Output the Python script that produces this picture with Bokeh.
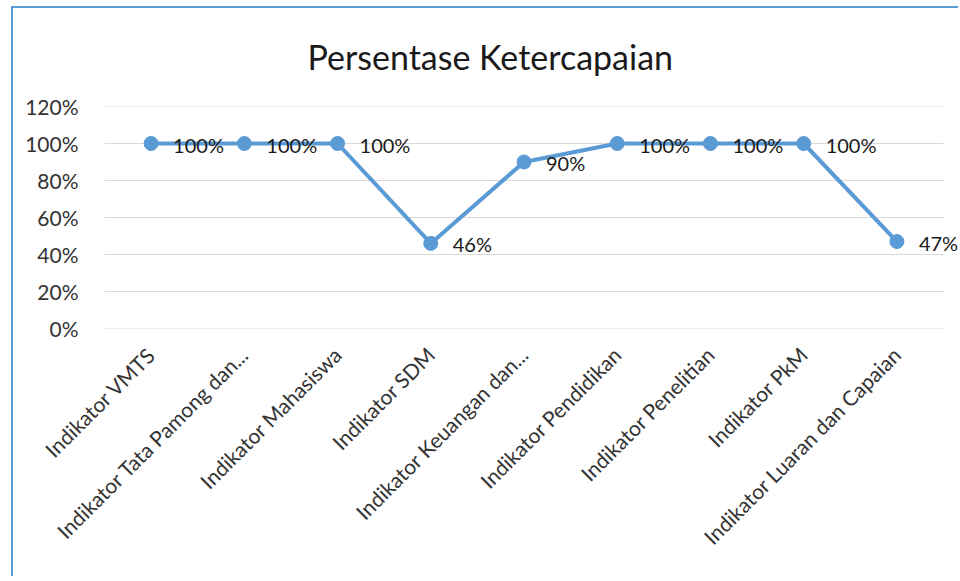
import math
from bokeh.plotting import figure
from bokeh.models import ColumnDataSource, LabelSet, Range1d, NumeralTickFormatter, FixedTicker
from bokeh.core.properties import value
from bokeh.embed import file_html
from bokeh.resources import INLINE

categories = [
    "Indikator VMTS",
    "Indikator Tata Pamong dan...",
    "Indikator Mahasiswa",
    "Indikator SDM",
    "Indikator Keuangan dan...",
    "Indikator Pendidikan",
    "Indikator Penelitian",
    "Indikator PkM",
    "Indikator Luaran dan Capaian",
]
values = [1.00, 1.00, 1.00, 0.46, 0.90, 1.00, 1.00, 1.00, 0.47]
y_ticks = [0, 0.2, 0.4, 0.6, 0.8, 1.0, 1.2]
title_text = "Persentase Ketercapaian"

FONT = "Lato"
BLUE = "#5B9BD5"
GRID = "#D9D9D9"

idx = list(range(len(categories)))
src = ColumnDataSource(dict(
    x=idx,
    val=values,
    lab=[f"{round(v * 100)}%" for v in values],
))

# layout (pixels)
W, H = 947, 570
FL, FT, FH = 91, 98, 222
PLOT_W = 839                      # width of the category area
FW = W - FL                       # frame reaches the right edge so end labels show
n = len(categories)
cat_px = PLOT_W / n
x_start = -0.5
x_end = x_start + FW / cat_px
x_plot_end = n - 0.5

p = figure(
    x_range=Range1d(x_start, x_end),
    y_range=Range1d(0, 1.2),
    width=W, height=H,
    output_backend="svg", toolbar_location=None,
    min_border_left=FL, min_border_top=FT, min_border_right=0,
    min_border_bottom=H - FT - FH,
    margin=(6, 0, 0, 11),
    styles={"border-left": f"2px solid {BLUE}", "border-top": f"2px solid {BLUE}"},
)
p.outline_line_color = None
p.background_fill_color = "white"
p.border_fill_color = "white"

# title
p.title.text = title_text
p.title.align = "left"
p.title.vertical_align = "top"
p.title.text_font = FONT
p.title.text_font_size = "34px"
p.title.text_font_style = "normal"
p.title.text_color = "#1a1a1a"
p.title.offset = 203
p.title.standoff = 55

# horizontal gridlines limited to the category area
p.segment(x0=[x_start] * len(y_ticks), x1=[x_plot_end] * len(y_ticks), y0=y_ticks, y1=y_ticks,
          line_color=GRID, line_width=1)

p.line("x", "val", source=src, line_color=BLUE, line_width=4)
p.scatter("x", "val", source=src, size=14, fill_color=BLUE, line_color=BLUE)

labels = LabelSet(x="x", y="val", text="lab", source=src, x_offset=22, y_offset=-1,
                  text_align="left", text_baseline="middle",
                  text_font=value(FONT), text_font_size=value("20px"), text_color=value("#1a1a1a"))
p.add_layout(labels)

p.yaxis.ticker = FixedTicker(ticks=y_ticks)
p.yaxis.formatter = NumeralTickFormatter(format="0%")
p.yaxis.axis_line_color = None
p.yaxis.major_tick_line_color = None
p.yaxis.minor_tick_line_color = None
p.yaxis.major_label_text_font = FONT
p.yaxis.major_label_text_font_size = "21px"
p.yaxis.major_label_text_color = "#333333"
p.yaxis.major_label_standoff = 20

p.xaxis.ticker = FixedTicker(ticks=idx)
p.xaxis.major_label_overrides = {i: c for i, c in zip(idx, categories)}
p.xaxis.axis_line_color = None
p.xaxis.major_tick_line_color = None
p.xaxis.minor_tick_line_color = None
p.xaxis.major_label_orientation = math.pi / 4
p.xaxis.major_label_text_font = FONT
p.xaxis.major_label_text_font_size = "21px"
p.xaxis.major_label_text_color = "#333333"
p.xaxis.major_label_standoff = 16

p.xgrid.grid_line_color = None
p.ygrid.grid_line_color = None

open("out.html", "w").write(file_html(p, INLINE))
